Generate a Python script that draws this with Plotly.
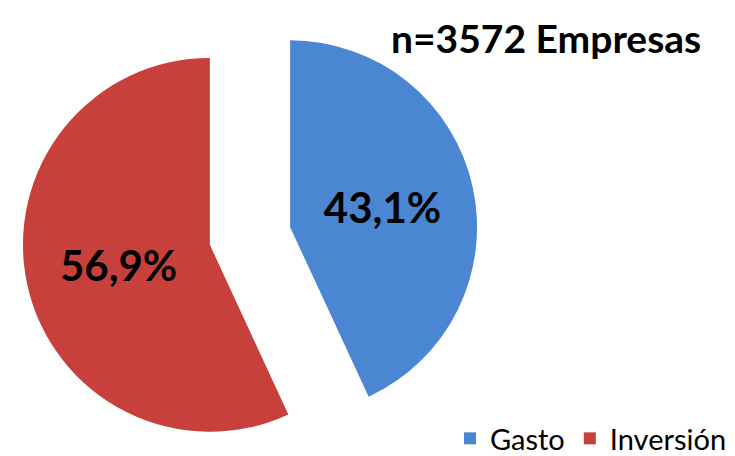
import plotly.graph_objs as go

# datos del grafico
labels = ['Gasto', 'Inversión']
values = [43.1, 56.9]
colors = ['#4a86d2', '#c8403b']
title_text = 'n=3572 Empresas'

W, H = 735, 456
cx = 242  # centro horizontal de la torta en px

fig = go.Figure()
fig.add_trace(go.Pie(
    labels=labels,
    values=values,
    sort=False,
    direction='clockwise',
    rotation=0,
    pull=[0.22, 0.22],
    marker=dict(colors=colors, line=dict(width=0)),
    texttemplate='%{percent:.1%}',
    textposition='inside',
    insidetextorientation='horizontal',
    textfont=dict(family='Lato', size=42, color='black', weight='bold'),
    hoverinfo='label+percent',
    domain=dict(x=[(cx - H / 2) / W, (cx + H / 2) / W], y=[0, 1]),
))

fig.update_layout(
    width=W,
    height=H,
    margin=dict(l=0, r=0, t=0, b=0),
    paper_bgcolor='white',
    separators=',.',
    showlegend=True,
    legend=dict(
        orientation='h',
        x=0.985, xanchor='right',
        y=0.0, yanchor='bottom',
        font=dict(family='Lato', size=29, color='black'),
        itemwidth=30,
        tracegroupgap=0,
    ),
    annotations=[dict(
        text='<b>' + title_text + '</b>',
        x=695 / W, xanchor='right',
        y=1 - 30 / H, yanchor='middle',
        xref='paper', yref='paper',
        showarrow=False,
        font=dict(family='Lato', size=39, color='black'),
    )],
)

fig.write_html("out.html")
